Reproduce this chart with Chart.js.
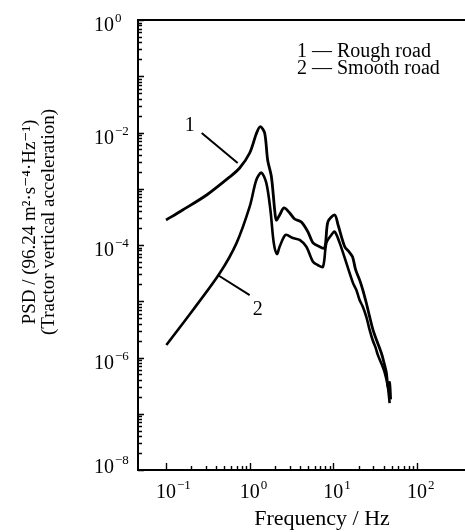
<!DOCTYPE html>
<html>
<head>
<meta charset="utf-8">
<script src="https://cdn.jsdelivr.net/npm/chart.js@4.4.0/dist/chart.umd.min.js"></script>
<style>
  html, body { margin: 0; padding: 0; background: #fff; overflow: hidden; }
  canvas { display: block; }
</style>
</head>
<body>
<canvas id="psdChart" width="465" height="532"></canvas>
<script>
// curve 1 - rough road
var roughFreq = [0.1, 0.158, 0.306, 0.577, 0.759, 1.0, 1.21, 1.34, 1.51, 1.64, 1.82, 1.99, 2.08, 2.28, 2.57, 3.01, 3.45, 4.15, 4.98, 5.71, 6.87, 7.88, 8.63, 10.4, 11.4, 13.7, 15.5, 17.0, 18.5, 20.6, 22.5, 24.8, 27, 29.8, 33, 37.5, 40, 43.1, 45, 47, 48.4];
var roughPsd = [2.78e-4, 4.19e-4, 7.74e-4, 1.62e-3, 2.34e-3, 4.32e-3, 9.8e-3, 1.27e-2, 9.8e-3, 3.24e-3, 1.62e-3, 4.19e-4, 2.78e-4, 3.41e-4, 4.55e-4, 3.71e-4, 2.9e-4, 2.56e-4, 1.7e-4, 1.09e-4, 9.33e-5, 8.85e-5, 2.6e-4, 3.41e-4, 2.27e-4, 9.3e-5, 7.5e-5, 6.1e-5, 3.6e-5, 2.4e-5, 1.6e-5, 9.3e-6, 5.5e-6, 3.1e-6, 2.0e-6, 1.2e-6, 8.5e-7, 5.3e-7, 3.0e-7, 3.6e-7, 1.8e-7];

// curve 2 - smooth road
var smoothFreq = [0.101, 0.21, 0.438, 0.694, 1.0, 1.2, 1.38, 1.58, 1.77, 1.94, 2.12, 2.28, 2.69, 3.29, 3.96, 4.76, 5.71, 6.5, 7.52, 8.26, 9.47, 10.4, 11.9, 14.3, 17.2, 18.8, 20.6, 22.5, 24.8, 27, 29.5, 32, 34.1, 38, 41, 44.6, 47.1];
var smoothPsd = [1.67e-6, 6.99e-6, 3.14e-5, 1.07e-4, 4.8e-4, 1.43e-3, 1.93e-3, 1.27e-3, 4.19e-4, 1.09e-4, 6.92e-5, 9.3e-5, 1.51e-4, 1.33e-4, 1.23e-4, 9.3e-5, 5.05e-5, 4.41e-5, 4.11e-5, 1.09e-4, 1.51e-4, 1.72e-4, 1.09e-4, 4.8e-5, 2.1e-5, 1.6e-5, 1.05e-5, 8e-6, 5.3e-6, 3.2e-6, 2.05e-6, 1.5e-6, 1.1e-6, 7.5e-7, 5.5e-7, 3.2e-7, 1.55e-7];

// axis decades that carry a label
var xLabelExp = [-1, 0, 1, 2];
var yLabelExp = [0, -2, -4, -6, -8];
var xRange = [Math.pow(10, -1.335), Math.pow(10, 2.574)];
var yRange = [1e-8, 1];

var xTitle = 'Frequency / Hz';
var yTitle = ['PSD / (96.24 m²·s⁻⁴·Hz⁻¹)', '(Tractor vertical acceleration)'];
var legendLines = ['1 — Rough road', '2 — Smooth road'];

// curve tags and their leader lines, [frequency, psd]
var tagText = ['1', '2'];
var tagAt = [[0.192, 1.3e-2], [1.25, 7e-6]];
var leader1 = [[0.267, 9.8e-3], [0.719, 2.87e-3]];
var leader2 = [[0.415, 2.93e-5], [1.0, 1.29e-5]];

function pairs(xs, ys) {
  return xs.map(function (x, i) { return { x: x, y: ys[i] }; });
}
function pts(list) {
  return list.map(function (p) { return { x: p[0], y: p[1] }; });
}

var SERIF = '"Liberation Serif", "DejaVu Serif", serif';

function drawPow(c, x, base, exp, centerDigits) {
  var sup = String(exp).replace('-', '\u2212');
  c.font = '20px ' + SERIF;
  var w = c.measureText('10').width;
  var left = centerDigits ? x - w / 2 : x;
  c.textAlign = 'left';
  c.textBaseline = 'alphabetic';
  c.fillText('10', left, base);
  c.font = '13px ' + SERIF;
  c.fillText(sup, left + w + 1, base - 9);
}

var axisDecor = {
  id: 'axisDecor',
  afterDraw: function (chart) {
    var c = chart.ctx, a = chart.chartArea;
    var xs = chart.scales.x, ys = chart.scales.y;
    c.save();
    c.strokeStyle = '#000';
    c.fillStyle = '#000';
    c.lineWidth = 1.4;
    c.beginPath();
    // inward ticks on the frequency axis
    for (var e = -1; e <= 2; e++) {
      for (var m = 1; m <= 9; m++) {
        var v = m * Math.pow(10, e);
        if (v > 100) break;
        var px = Math.round(xs.getPixelForValue(v)) + 0.5;
        var len = m === 1 ? 7 : 4;
        c.moveTo(px, a.bottom);
        c.lineTo(px, a.bottom - len);
      }
    }
    // inward ticks on the PSD axis
    for (var k = -8; k <= 0; k++) {
      for (var n = 1; n <= 9; n++) {
        var u = n * Math.pow(10, k);
        if (u > 1) break;
        var py = Math.round(ys.getPixelForValue(u)) + 0.5;
        var l2 = n === 1 ? 6 : 4;
        c.moveTo(a.left, py);
        c.lineTo(a.left + l2, py);
      }
    }
    c.stroke();

    xLabelExp.forEach(function (ex) {
      drawPow(c, xs.getPixelForValue(Math.pow(10, ex)), 498, ex, true);
    });
    yLabelExp.forEach(function (ex) {
      var ty = ys.getPixelForValue(Math.pow(10, ex));
      drawPow(c, 94, Math.min(ty + 11, a.bottom + 3), ex, false);
    });

    // axis titles
    c.font = '22px ' + SERIF;
    c.textAlign = 'center';
    c.textBaseline = 'middle';
    c.fillText(xTitle, 322, 519);
    c.save();
    c.translate(30, 222);
    c.rotate(-Math.PI / 2);
    c.font = '19px ' + SERIF;
    c.fillText(yTitle[0], 0, 0);
    c.fillText(yTitle[1], 0, 19);
    c.restore();

    // legend text
    c.font = '20px ' + SERIF;
    c.textAlign = 'left';
    c.textBaseline = 'alphabetic';
    c.fillText(legendLines[0], 297, 57);
    c.fillText(legendLines[1], 297, 74);

    // curve tags
    c.textAlign = 'center';
    c.textBaseline = 'middle';
    tagText.forEach(function (t, i) {
      c.fillText(t, xs.getPixelForValue(tagAt[i][0]), ys.getPixelForValue(tagAt[i][1]));
    });
    c.restore();
  }
};

var ctx = document.getElementById('psdChart').getContext('2d');
var chart = new Chart(ctx, {
  type: 'line',
  data: {
    datasets: [{
      label: 'Rough road',
      data: pairs(roughFreq, roughPsd),
      borderColor: '#000',
      borderWidth: 2.8,
      tension: 0.3
    }, {
      label: 'Smooth road',
      data: pairs(smoothFreq, smoothPsd),
      borderColor: '#000',
      borderWidth: 2.6,
      tension: 0.3
    }, {
      label: 'leader 1',
      data: pts(leader1),
      borderColor: '#000',
      borderWidth: 2,
      tension: 0
    }, {
      label: 'leader 2',
      data: pts(leader2),
      borderColor: '#000',
      borderWidth: 2,
      tension: 0
    }]
  },
  options: {
    responsive: false,
    animation: false,
    devicePixelRatio: 1,
    layout: { padding: 0 },
    elements: { point: { radius: 0 } },
    plugins: { legend: { display: false }, tooltip: { enabled: false } },
    scales: {
      x: {
        type: 'logarithmic',
        position: 'bottom',
        min: xRange[0],
        max: xRange[1],
        grid: { display: false },
        border: { color: '#000', width: 2 },
        ticks: { display: false },
        afterFit: function (s) { s.height = 62; }
      },
      xTop: {
        type: 'logarithmic',
        position: 'top',
        min: xRange[0],
        max: xRange[1],
        grid: { display: false },
        border: { color: '#000', width: 2 },
        ticks: { display: false },
        afterFit: function (s) { s.height = 20; }
      },
      y: {
        type: 'logarithmic',
        min: yRange[0],
        max: yRange[1],
        grid: { display: false },
        border: { color: '#000', width: 2 },
        ticks: { display: false },
        afterFit: function (s) { s.width = 138; }
      }
    }
  },
  plugins: [axisDecor]
});
</script>
</body>
</html>
